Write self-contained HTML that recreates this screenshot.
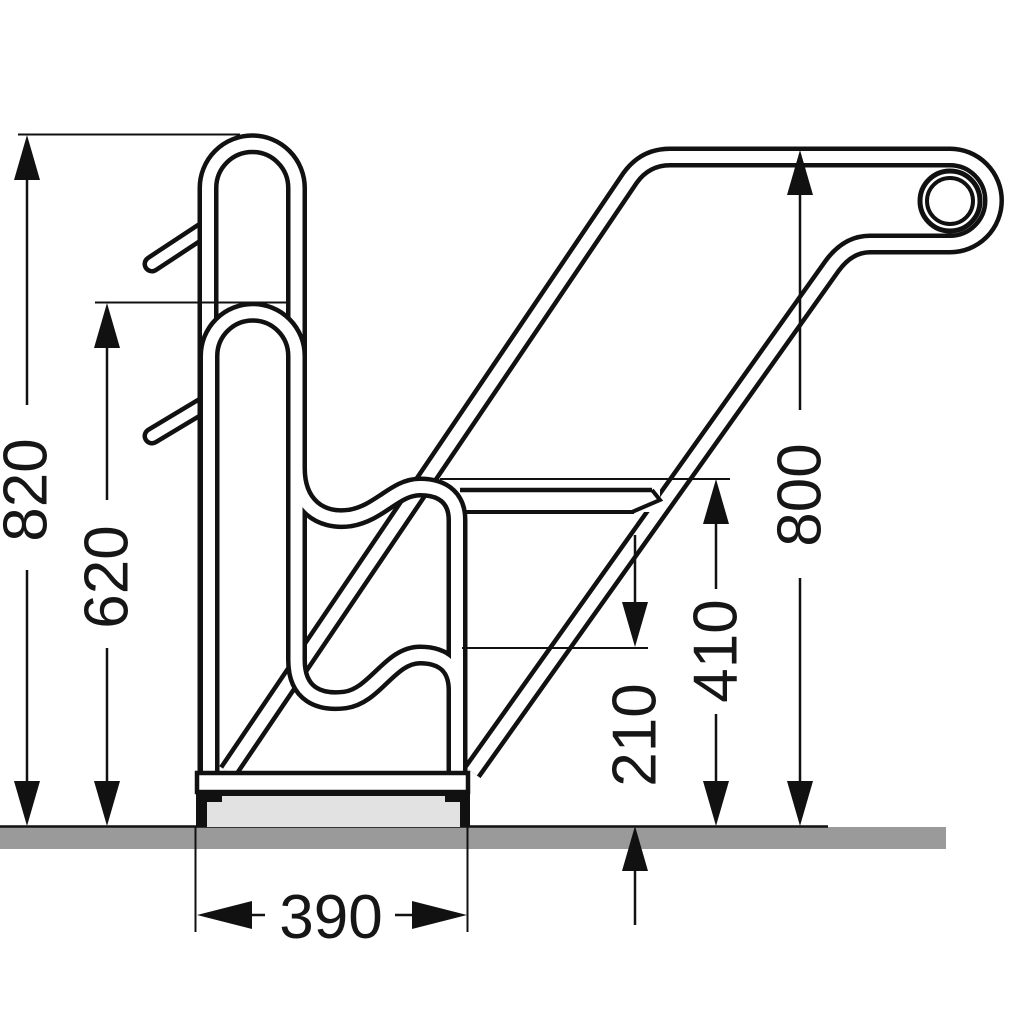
<!DOCTYPE html>
<html><head><meta charset="utf-8"><style>
html,body{margin:0;padding:0;background:#fff;}
svg{display:block;}
text{font-family:"Liberation Sans",sans-serif;font-size:62px;fill:#161616;}
</style></head><body>
<svg width="1024" height="1024" viewBox="0 0 1024 1024" xmlns="http://www.w3.org/2000/svg">
<rect width="1024" height="1024" fill="#fff"/>
<rect x="0" y="827" width="946" height="22" fill="#9a9a9a"/>
<line x1="0" y1="826.5" x2="828" y2="826.5" stroke="#111" stroke-width="2.5"/>

<g fill="none" stroke-linecap="round">
<path d="M152 264 L202 231 M152 436 L202 406" stroke="#111" stroke-width="19"/>
<path d="M152 264 L202 231 M152 436 L202 406" stroke="#fff" stroke-width="10"/>
</g>

<g fill="none" stroke-linejoin="round">
<path d="M228 772 L630 178 Q645 157 670 157 L950 157 A43.5 43.5 0 0 1 950 244 L870 244 Q848 244 832 266 L472 772" stroke="#111" stroke-width="21"/>
<path d="M228 772 L630 178 Q645 157 670 157 L950 157 A43.5 43.5 0 0 1 950 244 L870 244 Q848 244 832 266 L472 772" stroke="#fff" stroke-width="12"/>
</g>
<circle cx="950" cy="201" r="30" fill="#fff" stroke="#111" stroke-width="5"/>
<circle cx="950" cy="201" r="23" fill="#fff" stroke="#111" stroke-width="4"/>

<rect x="460" y="490" width="200" height="22" fill="#fff"/>
<line x1="460" y1="490" x2="652" y2="490" stroke="#111" stroke-width="4.5"/>
<line x1="460" y1="512" x2="634" y2="512" stroke="#111" stroke-width="4"/>
<polyline points="652,490 660,500 632,512" fill="none" stroke="#111" stroke-width="4"/>

<g fill="none">
<path d="M208 772 L208 188 A44.25 44.25 0 0 1 296.5 188 L296.5 420" stroke="#111" stroke-width="21"/>
<path d="M208 772 L208 188 A44.25 44.25 0 0 1 296.5 188 L296.5 420" stroke="#fff" stroke-width="12"/>
</g>
<g fill="none">
<path d="M209 772 L209 356 A43.75 43.75 0 0 1 296.5 356 L296.5 660 C296.5 695 320 703 345 700 C375 696 390 655 420 655 C445 655 457 668 457 690 L457 772 M296.5 468 C296.5 505 320 522 350 518 C380 513 395 487 420 487 C445 487 457 500 457 520 L457 700" stroke="#111" stroke-width="21"/>
<path d="M209 772 L209 356 A43.75 43.75 0 0 1 296.5 356 L296.5 660 C296.5 695 320 703 345 700 C375 696 390 655 420 655 C445 655 457 668 457 690 L457 772 M296.5 468 C296.5 505 320 522 350 518 C380 513 395 487 420 487 C445 487 457 500 457 520 L457 700" stroke="#fff" stroke-width="12"/>
</g>

<rect x="197" y="773" width="271" height="19" fill="#fff" stroke="#111" stroke-width="4.5"/>
<rect x="196" y="793" width="274" height="34" fill="#111"/>
<rect x="207" y="802" width="253" height="25" fill="#e2e2e2"/>
<rect x="222" y="796" width="223" height="8" fill="#e2e2e2"/>

<g stroke="#111" stroke-width="2" fill="none">
<line x1="18" y1="134.5" x2="240" y2="134.5"/>
<line x1="95" y1="302.5" x2="290" y2="302.5"/>
<line x1="440" y1="479" x2="730" y2="479"/>
<line x1="462" y1="648" x2="648" y2="648"/>
<line x1="195.5" y1="826" x2="195.5" y2="932"/>
<line x1="467.5" y1="826" x2="467.5" y2="932"/>
</g>

<g stroke="#111" stroke-width="2.5" fill="none">
<line x1="27" y1="170" x2="27" y2="405"/>
<line x1="27" y1="570" x2="27" y2="790"/>
<line x1="107" y1="340" x2="107" y2="500"/>
<line x1="107" y1="648" x2="107" y2="790"/>
<line x1="800" y1="185" x2="800" y2="410"/>
<line x1="800" y1="578" x2="800" y2="790"/>
<line x1="716" y1="515" x2="716" y2="589"/>
<line x1="716" y1="714" x2="716" y2="790"/>
<line x1="635" y1="535" x2="635" y2="612"/>
<line x1="635" y1="862" x2="635" y2="925"/>
<line x1="240" y1="915" x2="265" y2="915"/>
<line x1="395" y1="915" x2="425" y2="915"/>
</g>
<g fill="#111">
<polygon points="27,135 14,180 40,180"/>
<polygon points="27,826 14,781 40,781"/>
<polygon points="107,303 94,348 120,348"/>
<polygon points="107,826 94,781 120,781"/>
<polygon points="800,150 787,195 813,195"/>
<polygon points="800,826 787,781 813,781"/>
<polygon points="716,479 703,524 729,524"/>
<polygon points="716,826 703,781 729,781"/>
<polygon points="635,647 622,602 648,602"/>
<polygon points="635,826 622,871 648,871"/>
<polygon points="197,915 252,901 252,929"/>
<polygon points="467,915 412,901 412,929"/>
</g>

<text transform="translate(26,490) rotate(-90)" text-anchor="middle" dominant-baseline="central">820</text>
<text transform="translate(107,577) rotate(-90)" text-anchor="middle" dominant-baseline="central">620</text>
<text transform="translate(800,495) rotate(-90)" text-anchor="middle" dominant-baseline="central">800</text>
<text transform="translate(716,651) rotate(-90)" text-anchor="middle" dominant-baseline="central">410</text>
<text transform="translate(635,735) rotate(-90)" text-anchor="middle" dominant-baseline="central">210</text>
<text x="331" y="938" text-anchor="middle">390</text>
</svg>
</body></html>
